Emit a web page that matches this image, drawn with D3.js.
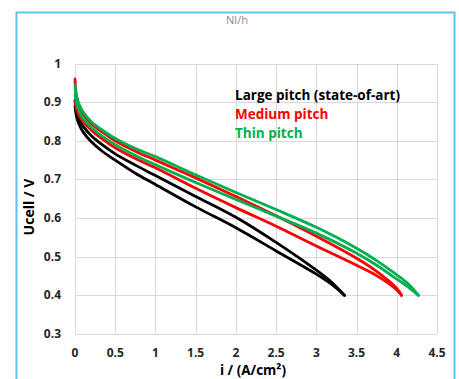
<!DOCTYPE html>
<html>
<head>
<meta charset="utf-8">
<script src="https://d3js.org/d3.v7.min.js"></script>
<style>
	body { margin: 0; background: #fff; }
	svg { display: block; font-family: "Open Sans", "Liberation Sans", sans-serif; }
</style>
</head>
<body>
<div id="fig-polar"><svg width="459" height="379"></svg></div>
<script>

// tick values
const xTicks = [0, 0.5, 1, 1.5, 2, 2.5, 3, 3.5, 4, 4.5];
const yTicks = [0.3, 0.4, 0.5, 0.6, 0.7, 0.8, 0.9, 1];

// legend entries
const seriesNames = ['Large pitch (state-of-art)', 'Medium pitch', 'Thin pitch'];
const seriesColors = ['#000000', '#ff0000', '#00b050'];

// polarisation loops, [i (A/cm2), Ucell (V)], two sweeps per pitch
const largeUp = [[0, 0.905], [0.02, 0.875], [0.05, 0.857], [0.1, 0.838], [0.2, 0.814], [0.35, 0.788],
	[0.5, 0.766], [0.75, 0.737], [1, 0.71], [1.5, 0.656], [2, 0.602], [2.5, 0.537], [3, 0.465],
	[3.2, 0.432], [3.35, 0.40]];
const largeDown = [[0, 0.89], [0.02, 0.862], [0.05, 0.843], [0.1, 0.823], [0.2, 0.798], [0.35, 0.771],
	[0.5, 0.75], [0.75, 0.716], [1, 0.687], [1.5, 0.629], [2, 0.575], [2.5, 0.515], [3, 0.455],
	[3.2, 0.427], [3.35, 0.40]];

const mediumUp = [[0, 0.96], [0.02, 0.912], [0.05, 0.89], [0.1, 0.87], [0.2, 0.845], [0.35, 0.821],
	[0.5, 0.8], [0.75, 0.773], [1, 0.75], [1.5, 0.704], [2, 0.656], [2.5, 0.606], [3, 0.553],
	[3.5, 0.496], [3.75, 0.462], [4, 0.418], [4.06, 0.40]];
const mediumDown = [[0, 0.90], [0.02, 0.882], [0.05, 0.866], [0.1, 0.85], [0.2, 0.828], [0.35, 0.803],
	[0.5, 0.782], [0.75, 0.754], [1, 0.73], [1.5, 0.677], [2, 0.627], [2.5, 0.579], [3, 0.528],
	[3.5, 0.478], [3.75, 0.451], [4, 0.414], [4.06, 0.40]];

const thinUp = [[0, 0.945], [0.02, 0.915], [0.05, 0.895], [0.1, 0.875], [0.2, 0.85], [0.35, 0.826],
	[0.5, 0.806], [0.75, 0.78], [1, 0.759], [1.5, 0.712], [2, 0.666], [2.5, 0.622], [3, 0.576],
	[3.5, 0.522], [3.75, 0.49], [4, 0.453], [4.15, 0.428], [4.27, 0.40]];
const thinDown = [[0, 0.92], [0.02, 0.895], [0.05, 0.877], [0.1, 0.858], [0.2, 0.835], [0.35, 0.81],
	[0.5, 0.79], [0.75, 0.762], [1, 0.738], [1.5, 0.692], [2, 0.648], [2.5, 0.605], [3, 0.561],
	[3.5, 0.509], [3.75, 0.478], [4, 0.442], [4.15, 0.42], [4.27, 0.40]];

const loops = [
	[largeUp, largeDown],
	[mediumUp, mediumDown],
	[thinUp, thinDown]
];

function whenDocumentLoaded(action) {
	if (document.readyState === "loading") {
		document.addEventListener("DOMContentLoaded", action);
	} else {
		action();
	}
}

function drawChart(figId) {
	const svg = d3.select('#' + figId + ' svg');

	// outer frame of the slide
	svg.append('rect')
		.attr('x', 16.5).attr('y', 12.5)
		.attr('width', 438).attr('height', 400)
		.attr('fill', 'none')
		.attr('stroke', '#5cc6ee')
		.attr('stroke-width', 2);

	svg.append('text')
		.attr('x', 237).attr('y', 24)
		.attr('text-anchor', 'middle')
		.attr('font-size', 11)
		.attr('fill', '#8a8a8a')
		.text('Nl/h');

	const scaleX = d3.scaleLinear().domain([0, 4.5]).range([75, 437]);
	const scaleY = d3.scaleLinear().domain([0.3, 1]).range([334, 63.5]);

	// grid
	const grid = svg.append('g').attr('stroke', '#d9d9d9').attr('stroke-width', 1);
	grid.selectAll('line.v').data(xTicks).enter().append('line')
		.attr('x1', d => Math.round(scaleX(d)) + 0.5).attr('x2', d => Math.round(scaleX(d)) + 0.5)
		.attr('y1', scaleY(1)).attr('y2', scaleY(0.3));
	grid.selectAll('line.h').data(yTicks).enter().append('line')
		.attr('x1', scaleX(0)).attr('x2', scaleX(4.5))
		.attr('y1', d => Math.round(scaleY(d)) + 0.5).attr('y2', d => Math.round(scaleY(d)) + 0.5);

	// tick labels
	svg.append('g').selectAll('text').data(xTicks).enter().append('text')
		.attr('x', d => scaleX(d)).attr('y', 357)
		.attr('text-anchor', 'middle')
		.attr('font-size', 12).attr('font-weight', 'bold').attr('fill', '#262626')
		.text(d => d);
	svg.append('g').selectAll('text').data(yTicks).enter().append('text')
		.attr('x', 61).attr('y', d => scaleY(d) + 4)
		.attr('text-anchor', 'end')
		.attr('font-size', 12).attr('font-weight', 'bold').attr('fill', '#262626')
		.text(d => d);

	// axis titles
	svg.append('text')
		.attr('transform', 'translate(34,207) rotate(-90)')
		.attr('text-anchor', 'middle')
		.attr('font-size', 14).attr('font-weight', 'bold').attr('fill', '#000')
		.text('Ucell / V');
	svg.append('text')
		.attr('x', 253).attr('y', 375)
		.attr('text-anchor', 'middle')
		.attr('font-size', 13.5).attr('font-weight', 'bold').attr('fill', '#000')
		.text('i / (A/cm²)');

	// curves
	const lineGenerator = d3.line()
		.x(d => scaleX(d[0]))
		.y(d => scaleY(d[1]))
		.curve(d3.curveCatmullRom.alpha(0.5));

	loops.forEach((branches, k) => {
		svg.append('g').selectAll('path').data(branches).enter().append('path')
			.attr('d', lineGenerator)
			.attr('fill', 'none')
			.attr('stroke', seriesColors[k])
			.attr('stroke-width', 2.8)
			.attr('stroke-linecap', 'round')
			.attr('stroke-linejoin', 'round');
	});

	// legend (coloured text)
	svg.append('g').selectAll('text').data(seriesNames).enter().append('text')
		.attr('x', 235).attr('y', (d, i) => 100 + i * 19)
		.attr('font-size', 13.5).attr('font-weight', 'bold')
		.attr('fill', (d, i) => seriesColors[i])
		.text(d => d);
}

whenDocumentLoaded(() => {
	drawChart('fig-polar');
});
</script>
</body>
</html>
